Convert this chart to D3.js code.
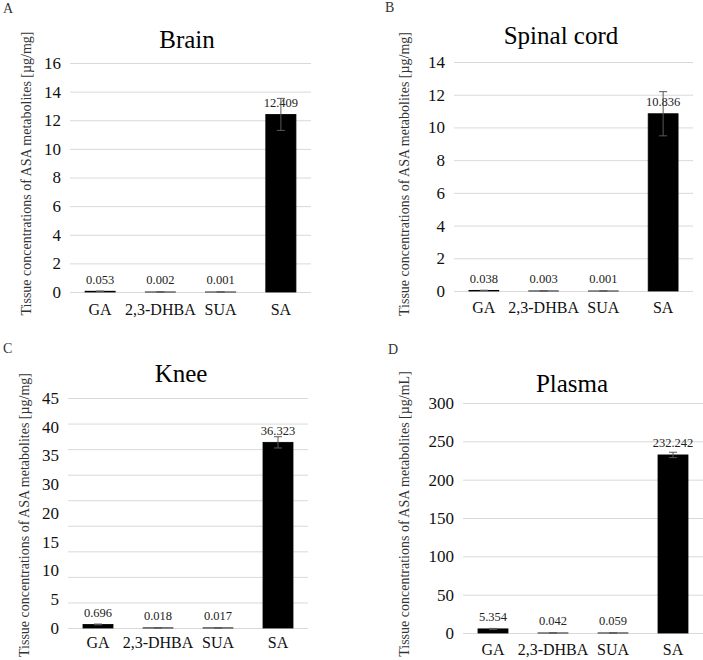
<!DOCTYPE html>
<html>
<head>
<meta charset="utf-8">
<script src="https://cdn.jsdelivr.net/npm/d3@7"></script>
<style>
  html, body { margin: 0; padding: 0; background: #fff; }
  svg { display: block; }
  svg text { font-family: "Liberation Serif", "Times New Roman", serif !important; }
</style>
</head>
<body>
<svg id="chart" width="703" height="660"></svg>
<script>
// ---------- data ----------
const categories = ["GA", "2,3-DHBA", "SUA", "SA"];

const brainValues  = [0.053, 0.002, 0.001, 12.409];
const brainErrors  = [0.01, 0.001, 0.0005, 1.12];

const spinalValues = [0.038, 0.003, 0.001, 10.836];
const spinalErrors = [0.008, 0.001, 0.0005, 1.35];

const kneeValues   = [0.696, 0.018, 0.017, 36.323];
const kneeErrors   = [0.08, 0.004, 0.004, 1.1];

const plasmaValues = [5.354, 0.042, 0.059, 232.242];
const plasmaErrors = [0.6, 0.01, 0.01, 3.5];

const brainTicks   = [0, 2, 4, 6, 8, 10, 12, 14, 16];
const spinalTicks  = [0, 2, 4, 6, 8, 10, 12, 14];
const kneeTicks    = [0, 5, 10, 15, 20, 25, 30, 35, 40, 45];
const kneeTickLabels = ["45", "40", "35", "30", "20", "15", "10", "5", "0"];
const plasmaTicks  = [0, 50, 100, 150, 200, 250, 300];

const panelLetters = ["A", "B", "C", "D"];
const panelTitles  = ["Brain", "Spinal cord", "Knee", "Plasma"];
const axisTitles   = [
  "Tissue concentrations of ASA metabolites [µg/mg]",
  "Tissue concentrations of ASA metabolites [µg/mg]",
  "Tissue concentrations of ASA metabolites [µg/mg]",
  "Tissue concentrations of ASA metabolites [µg/mL]"
];

// ---------- layout ----------
const panels = [
  { values: brainValues,  errors: brainErrors,  ticks: brainTicks,  max: 16,
    x0: 70,  x1: 311, y0: 292, y1: 63,
    letter: [3, 13], title: [187, 48], axisTitle: [31, 173.5], catY: 315 },
  { values: spinalValues, errors: spinalErrors, ticks: spinalTicks, max: 14,
    x0: 454, x1: 693, y0: 291, y1: 62,
    letter: [385, 12], title: [561, 44], axisTitle: [409, 174], catY: 313 },
  { values: kneeValues,   errors: kneeErrors,   ticks: kneeTicks,   max: 45,
    x0: 68,  x1: 308, y0: 628, y1: 398, labels: kneeTickLabels,
    letter: [3, 353], title: [181, 382], axisTitle: [29, 515], catY: 648 },
  { values: plasmaValues, errors: plasmaErrors, ticks: plasmaTicks, max: 300,
    x0: 463, x1: 703, y0: 633, y1: 403,
    letter: [388, 354], title: [572, 392], axisTitle: [409, 514], catY: 655 }
];

const svg = d3.select("#chart");
const fmt = d3.format(".3f");

panels.forEach((p, i) => {
  const g = svg.append("g");

  const x = d3.scaleBand().domain(categories).range([p.x0, p.x1])
    .paddingInner(0.5).paddingOuter(0.25);
  const y = d3.scaleLinear().domain([0, p.max]).range([p.y0, p.y1]);

  // gridlines
  const grid = g.append("g")
    .attr("transform", `translate(${p.x0},0)`)
    .call(d3.axisLeft(y).tickValues(p.ticks).tickSize(-(p.x1 - p.x0)).tickFormat(""));
  grid.select(".domain").remove();
  grid.selectAll(".tick line").attr("stroke", "#d9d9d9").attr("stroke-width", 1);

  // tick labels
  if (p.labels) {
    const ly = d3.scalePoint().domain(p.labels).range([p.y1, p.y0]);
    g.append("g").selectAll("text").data(p.labels).join("text")
      .attr("x", p.x0 - 9)
      .attr("y", d => ly(d))
      .attr("dy", "0.35em")
      .attr("text-anchor", "end")
      .attr("font-size", 17)
      .attr("fill", "#111")
      .text(d => d);
  } else {
    const ax = g.append("g")
      .attr("transform", `translate(${p.x0},0)`)
      .call(d3.axisLeft(y).tickValues(p.ticks).tickSize(0).tickPadding(9));
    ax.select(".domain").remove();
    ax.attr("font-family", null);
    ax.selectAll("text")
      .attr("font-size", 17)
      .attr("fill", "#111");
  }

  // category labels
  g.append("g").selectAll("text").data(categories).join("text")
    .attr("x", d => x(d) + x.bandwidth() / 2)
    .attr("y", p.catY)
    .attr("text-anchor", "middle")
    .attr("font-size", 16)
    .attr("fill", "#111")
    .text(d => d);

  const rows = categories.map((c, k) => ({ c, v: p.values[k], e: p.errors[k] }));

  // bars
  g.append("g").selectAll("rect").data(rows).join("rect")
    .attr("x", d => x(d.c))
    .attr("y", d => y(d.v))
    .attr("width", x.bandwidth())
    .attr("height", d => y(0) - y(d.v))
    .attr("fill", "#000")
    .attr("stroke", "#000")
    .attr("stroke-width", 0.8);

  // value labels
  g.append("g").selectAll("text").data(rows).join("text")
    .attr("x", d => x(d.c) + x.bandwidth() / 2)
    .attr("y", d => y(d.v) - 7.5)
    .attr("text-anchor", "middle")
    .attr("font-size", 12.5)
    .attr("fill", "#222")
    .text(d => fmt(d.v));

  // error bars
  const eb = g.append("g").attr("stroke", "#595959").attr("stroke-width", 1);
  rows.forEach(d => {
    const cx = x(d.c) + x.bandwidth() / 2;
    eb.append("line").attr("x1", cx).attr("x2", cx)
      .attr("y1", y(d.v + d.e)).attr("y2", y(d.v - d.e));
    [d.v + d.e, d.v - d.e].forEach(v => {
      eb.append("line").attr("x1", cx - 4).attr("x2", cx + 4)
        .attr("y1", y(v)).attr("y2", y(v));
    });
  });

  // panel letter
  g.append("text")
    .attr("x", p.letter[0]).attr("y", p.letter[1])
    .attr("font-size", 14).attr("fill", "#333")
    .text(panelLetters[i]);

  // title
  g.append("text")
    .attr("x", p.title[0]).attr("y", p.title[1])
    .attr("text-anchor", "middle")
    .attr("font-size", 25).attr("fill", "#000")
    .text(panelTitles[i]);

  // y axis title
  g.append("text")
    .attr("transform", `translate(${p.axisTitle[0]},${p.axisTitle[1]}) rotate(-90)`)
    .attr("text-anchor", "middle")
    .attr("font-size", 14).attr("fill", "#333")
    .text(axisTitles[i]);
});
</script>
</body>
</html>
